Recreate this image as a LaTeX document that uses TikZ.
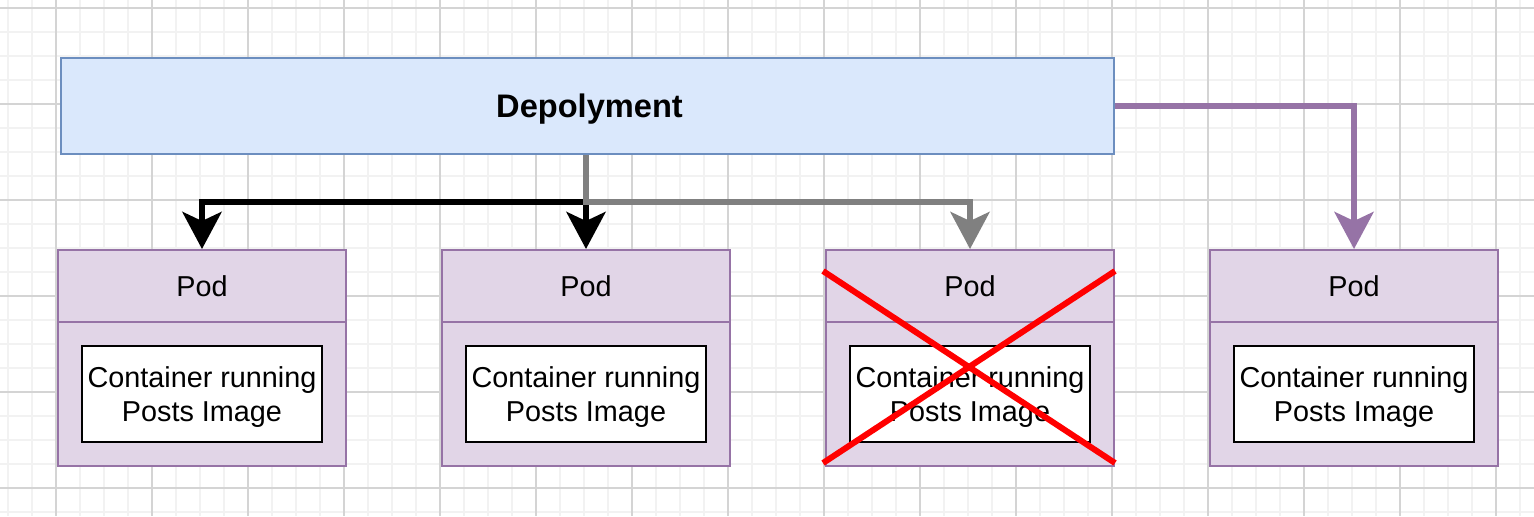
\documentclass[tikz,border=0pt]{standalone}
\usepackage{fontspec}
\setmainfont{Liberation Sans}
\usetikzlibrary{arrows.meta,calc}
\definecolor{deployfill}{HTML}{DAE8FC}
\definecolor{deployline}{HTML}{6C8EBF}
\definecolor{podfill}{HTML}{E1D5E7}
\definecolor{podline}{HTML}{9673A6}
\definecolor{flowgray}{HTML}{808080}
\definecolor{gridminor}{HTML}{F2F2F2}
\definecolor{gridmajor}{HTML}{D4D4D4}

\begin{document}
\begin{tikzpicture}[x=0.5pt,y=-0.5pt,
  deploybox/.style={draw=deployline,fill=deployfill,line width=1pt,minimum width=526.5pt,minimum height=48pt},
  podbox/.style={draw=podline,fill=podfill,line width=1pt,minimum width=144pt,minimum height=108pt,inner sep=0pt},
  podhead/.style={draw=podline,line width=1pt,minimum width=144pt,minimum height=36pt,inner sep=0pt,font=\fontsize{14.4}{17}\selectfont},
  ctrbox/.style={draw=black,fill=white,line width=1pt,minimum width=120pt,minimum height=48pt,inner sep=0pt},
  ctrtext/.style={align=center,inner sep=0pt,font=\fontsize{14.4}{17}\selectfont},
  flow/.style={line width=3pt,-{Stealth[length=18.5pt,width=19.5pt,inset=4.5pt]}}]
  \useasboundingbox (0,0) rectangle (1534,516);
  \fill[white] (0,0) rectangle (1534,516);
  % background grid
  \foreach \gx in {8,32,...,1520}
    \draw[gridminor,line width=1pt] (\gx,0) -- (\gx,516);
  \foreach \gy in {8,32,...,512}
    \draw[gridminor,line width=1pt] (0,\gy) -- (1534,\gy);
  \foreach \gx in {56,152,...,1496}
    \draw[gridmajor,line width=0.6pt] (\gx,0) -- (\gx,516);
  \foreach \gy in {8,104,...,488}
    \draw[gridmajor,line width=0.6pt] (0,\gy) -- (1534,\gy);

  \node[deploybox] (deploy) at (587.5,106) {};
  \node[font=\bfseries\fontsize{16.3}{19}\selectfont] (deploytext) at (589.5,109) {Depolyment};
  \foreach \i/\cx in {1/202,2/586,3/970,4/1354}{
    \node[podbox] (pod\i) at (\cx,358) {};
    \node[podhead,anchor=north] (head\i) at (pod\i.north) {Pod};
    \node[ctrbox] (ctr\i) at (\cx,394) {};
    \node[ctrtext] (txt\i) at (\cx,397) {Container running\\Posts Image};
  }

  % arrows
  \coordinate (fork) at ($(deploy.south -| pod2.north)!0.5!(pod2.north)$);
  \draw[flow,black] (deploy.south -| pod2.north) -- (fork) -| (pod1.north);
  \draw[flow,black] (deploy.south -| pod2.north) -- (pod2.north);
  \draw[flow,flowgray] (deploy.south -| pod2.north) -- (fork) -| (pod3.north);
  \draw[flow,podline] (deploy.east) -| (pod4.north);

  % crossed out pod
  \draw[red,line width=3pt] ($(pod3.north west)+(-2,22)$) -- ($(pod3.south east)+(0,-4)$);
  \draw[red,line width=3pt] ($(pod3.south west)+(-2,-4)$) -- ($(pod3.north east)+(0,22)$);
\end{tikzpicture}
\end{document}
